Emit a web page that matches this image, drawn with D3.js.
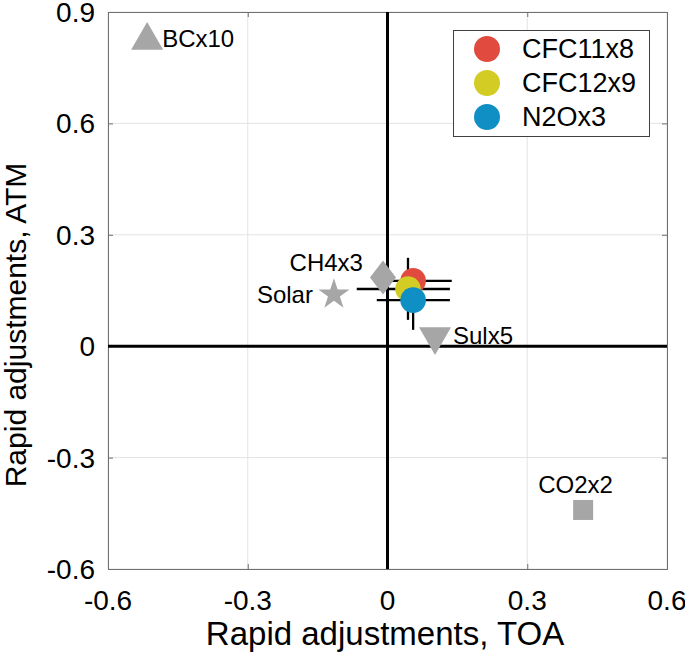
<!DOCTYPE html>
<html><head><meta charset="utf-8">
<script src="https://cdn.jsdelivr.net/npm/d3@7"></script>
<style>
html,body{margin:0;padding:0;background:#fff;}
text{font-family:"Liberation Sans",Arial,Helvetica,sans-serif;fill:#000;}
</style></head>
<body><svg id="chart" width="685" height="659"></svg>
<script>
// ---- data ----
const xTicks = [-0.6, -0.3, 0, 0.3, 0.6];
const xTickLabels = ["-0.6", "-0.3", "0", "0.3", "0.6"];
const yTicks = [-0.6, -0.3, 0, 0.3, 0.6, 0.9];
const yTickLabels = ["-0.6", "-0.3", "0", "0.3", "0.6", "0.9"];

const grayNames = ["BCx10", "CO2x2", "Sulx5", "Solar", "CH4x3"];
const grayX = [-0.516, 0.42, 0.102, -0.115, -0.0097];
const grayY = [0.823, -0.441, 0.026, 0.139, 0.185];
const grayShapes = ["triangle", "square", "triangleDown", "star", "diamond"];

const gasNames = ["CFC11x8", "CFC12x9", "N2Ox3"];
const gasX = [0.055, 0.044, 0.055];
const gasY = [0.176, 0.154, 0.124];
const gasXLo = [-0.029, -0.066, -0.023];
const gasXHi = [0.138, 0.134, 0.134];
const gasYLo = [0.16, 0.071, 0.044];
const gasYHi = [0.19, 0.238, 0.205];
const gasColors = ["#e04a3f", "#d2cc24", "#108fc4"];

const xLabel = "Rapid adjustments, TOA";
const yLabel = "Rapid adjustments, ATM";

// ---- layout ----
const svg = d3.select("#chart");
const L = 108, R = 667, T = 12, B = 569;
const x = d3.scaleLinear().domain([-0.6, 0.6]).range([L, R]);
const y = d3.scaleLinear().domain([-0.6, 0.9]).range([B, T]);
const gray = "#a6a6a6";

// grid
const g = svg.append("g");
g.selectAll(".gx").data(xTicks).enter().append("line")
  .attr("x1", d => x(d)).attr("x2", d => x(d)).attr("y1", T).attr("y2", B)
  .attr("stroke", "#e3e3e3").attr("stroke-width", 1);
g.selectAll(".gy").data(yTicks).enter().append("line")
  .attr("y1", d => y(d)).attr("y2", d => y(d)).attr("x1", L).attr("x2", R)
  .attr("stroke", "#e3e3e3").attr("stroke-width", 1);

// axes box with ticks
const xAxB = d3.axisBottom(x).tickValues(xTicks).tickSize(-5).tickFormat("");
const xAxT = d3.axisTop(x).tickValues(xTicks).tickSize(-5).tickFormat("");
const yAxL = d3.axisLeft(y).tickValues(yTicks).tickSize(-5).tickFormat("");
const yAxR = d3.axisRight(y).tickValues(yTicks).tickSize(-5).tickFormat("");
[[xAxB, `translate(0,${B})`], [xAxT, `translate(0,${T})`], [yAxL, `translate(${L},0)`], [yAxR, `translate(${R},0)`]]
  .forEach(([ax, tr]) => {
    const a = svg.append("g").attr("transform", tr).call(ax);
    a.selectAll("path,line").attr("stroke", "#707070").attr("stroke-width", 1);
  });

// tick labels
svg.selectAll(".xtl").data(xTicks).enter().append("text")
  .attr("x", d => x(d)).attr("y", 610).attr("text-anchor", "middle")
  .attr("font-size", 28).text((d, i) => xTickLabels[i]);
svg.selectAll(".ytl").data(yTicks).enter().append("text")
  .attr("x", 95).attr("y", d => y(d) + 10).attr("text-anchor", "end")
  .attr("font-size", 28).text((d, i) => yTickLabels[i]);

// axis labels
svg.append("text").attr("x", 385).attr("y", 645).attr("text-anchor", "middle")
  .attr("font-size", 33).text(xLabel);
svg.append("text").attr("transform", "translate(26,325) rotate(-90)").attr("text-anchor", "middle")
  .attr("font-size", 30).text(yLabel);

// zero lines
svg.append("line").attr("x1", x(0)).attr("x2", x(0)).attr("y1", T).attr("y2", B)
  .attr("stroke", "#000").attr("stroke-width", 3);
svg.append("line").attr("y1", y(0)).attr("y2", y(0)).attr("x1", L).attr("x2", R)
  .attr("stroke", "#000").attr("stroke-width", 3);

// error bars
const eb = svg.append("g");
gasNames.forEach((n, i) => {
  eb.append("line").attr("x1", x(gasXLo[i])).attr("x2", x(gasXHi[i]))
    .attr("y1", y(gasY[i])).attr("y2", y(gasY[i])).attr("stroke", "#000").attr("stroke-width", 2.3);
  eb.append("line").attr("y1", y(gasYLo[i])).attr("y2", y(gasYHi[i]))
    .attr("x1", x(gasX[i])).attr("x2", x(gasX[i])).attr("stroke", "#000").attr("stroke-width", 2.3);
});

// gray markers
function shapePath(s) {
  if (s === "triangle" || s === "triangleDown") return d3.symbol(d3.symbolTriangle, 444)();
  if (s === "square") return d3.symbol(d3.symbolSquare, 400)();
  if (s === "star") return d3.symbol(d3.symbolStar, 300)();
  return "M0,-17L13,0L0,17L-13,0Z";
}
svg.selectAll(".gm").data(grayNames).enter().append("path")
  .attr("d", (d, i) => shapePath(grayShapes[i]))
  .attr("transform", (d, i) => `translate(${x(grayX[i])},${y(grayY[i])})` + (grayShapes[i] === "triangleDown" ? " rotate(180)" : ""))
  .attr("fill", gray);

// gray labels
const lab = [
  {dx: 15, dy: 6, anchor: "start"},
  {dx: -45, dy: -17, anchor: "start"},
  {dx: 18, dy: 7.5, anchor: "start"},
  {dx: -21, dy: 8, anchor: "end"},
  {dx: -20, dy: -7, anchor: "end"}
];
svg.selectAll(".gl").data(grayNames).enter().append("text")
  .attr("x", (d, i) => x(grayX[i]) + lab[i].dx)
  .attr("y", (d, i) => y(grayY[i]) + lab[i].dy)
  .attr("text-anchor", (d, i) => lab[i].anchor)
  .attr("font-size", 24).text(d => d);

// gas circles
svg.selectAll(".gc").data(gasNames).enter().append("circle")
  .attr("cx", (d, i) => x(gasX[i])).attr("cy", (d, i) => y(gasY[i])).attr("r", 12.8)
  .attr("fill", (d, i) => gasColors[i]);

// legend
const lg = svg.append("g");
lg.append("rect").attr("x", 453.5).attr("y", 30.5).attr("width", 196).attr("height", 106)
  .attr("fill", "#fff").attr("stroke", "#404040").attr("stroke-width", 1);
gasNames.forEach((n, i) => {
  lg.append("circle").attr("cx", 487).attr("cy", 49 + i * 34).attr("r", 13).attr("fill", gasColors[i]);
  lg.append("text").attr("x", 522).attr("y", 58 + i * 34).attr("font-size", 27).text(n);
});
</script></body></html>
